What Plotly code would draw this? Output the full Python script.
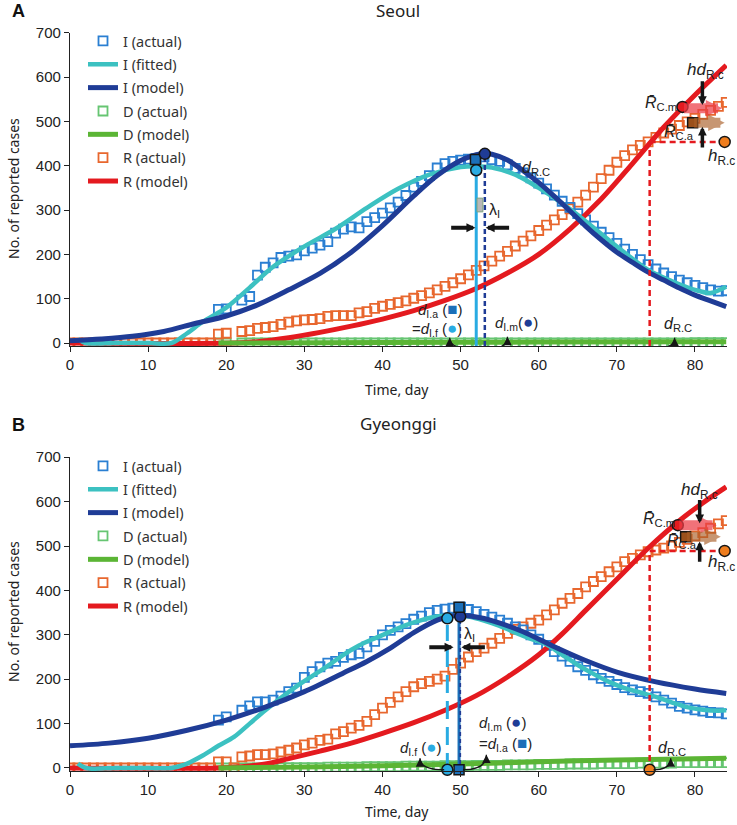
import plotly.graph_objects as go

N = None
days = list(range(85))

# ---------------- Seoul (panel A) ----------------
seoul_I_actual = [
    N, N, N, N, N, N, N, N, N, N,
    N, N, N, N, N, N, N, N, N, 76,
    77, N, 97, 105, 153, 171, 181, 193, 196, 199,
    208, 214, 221, 229, 248, 257, 262, 260, 274, 283,
    293, 305, 318, 333, 352, 365, 378, 395, 405, 410,
    413, 415, 416, 420, 414, 410, 402, 394, 384, 373,
    361, 348, 334, 320, 306, 292, 278, 264, 250, 238,
    225, 212, 200, 188, 177, 167, 158, 150, 142, 136,
    130, 125, 120, 117, 118]
seoul_D_actual = [
    N, N, N, N, N, N, N, N, N, N,
    N, N, N, N, N, N, N, N, N, 0,
    0, N, 0, 0, 0, 0, 0, 0, 0, 0,
    0, 0, 0, 0, 0, 0, 0, 0, 0, 0,
    0, 0, 0, 0, 0, 0, 0, 0, 0, 0,
    0, 0, 0, 0, 0, 0, 0, 0, 0, 0,
    0, 0, 0, 0, 0, 0, 0, 0, 0, 0,
    0, 0, 0, 0, 0, 0, 0, 0, 0, 0,
    1, 1, 1, 1, 1]
seoul_R_actual = [
    0, 0, 0, 0, 0, 0, 0, 0, 0, 0,
    0, 0, 0, 0, 0, 0, 0, 0, 0, 20,
    22, N, 26, 28, 33, 35, 37, 42, 47, 50,
    52, 53, 55, 60, 62, 62, 62, 68, 71, 78,
    83, 87, 91, 95, 101, 107, 113, 120, 128, 136,
    145, 154, 164, 174, 185, 196, 207, 219, 230, 242,
    254, 266, 278, 290, 303, 318, 334, 352, 371, 390,
    408, 423, 436, 446, 454, 464, 474, 483, 491, 499,
    507, 516, 525, 534, 543]
seoul_fit_days = [1, 2, 6, 10, 13, 15, 17, 20, 23, 26, 30, 34, 38, 42, 46, 50, 52, 54, 57, 60, 63, 66, 70, 74, 77, 80, 82, 84]
seoul_I_fitted = [9, 0, 0, 0, 0, 22, 48, 80, 125, 172, 218, 258, 305, 348, 380, 397, 399, 396, 380, 350, 315, 275, 218, 165, 140, 120, 113, 127]
seoul_Imod_days = [0, 4, 8, 12, 16, 20, 24, 28, 32, 36, 40, 44, 47, 50, 52, 53, 54, 56, 58, 60, 62, 64, 66, 68, 70, 72, 74, 76, 78, 80, 82, 84]
seoul_I_model = [5, 9, 15, 26, 44, 61, 86, 120, 157, 205, 265, 332, 378, 412, 425, 428, 426, 413, 389, 362, 331, 298, 264, 233, 205, 182, 160, 142, 124, 108, 95, 82]
seoul_Dmod_days = [19, 40, 60, 84]
seoul_D_model = [0, 1, 2, 3]
seoul_Rmod_days = [0, 21, 24, 28, 32, 36, 40, 44, 48, 52, 56, 60, 64, 68, 72, 76, 80, 84]
seoul_R_model = [0, 0, 3, 12, 24, 38, 54, 73, 96, 123, 158, 200, 257, 325, 405, 487, 560, 627]

# key points: (day, value)
seoul_If = (52.0, 390)
seoul_Ia = (51.9, 414)
seoul_Im = (53.1, 427)
seoul_RC = (74.2, 454)
seoul_hRc_end = 83.8
seoul_RCm = (78.4, 533)
seoul_RCa = (79.7, 497)
seoul_base = -13

# ---------------- Gyeonggi (panel B) ----------------
gg_I_actual = [
    N, N, N, N, N, N, N, N, N, N,
    N, N, N, N, N, N, N, N, N, 108,
    115, N, 130, 140, 149, 149, 153, 162, 172, 180,
    204, 217, 228, 236, 240, 249, 255, 258, 273, 285,
    300, 310, 318, 325, 335, 342, 350, 355, 358, 360,
    362, 357, 352, 346, 340, 333, 326, 318, 311, 300,
    290, 276, 262, 252, 240, 228, 220, 210, 202, 195,
    188, 181, 176, 172, 168, 160, 153, 146, 139, 135,
    131, 128, 125, 124, 122]
gg_D_actual = [
    N, N, N, N, N, N, N, N, N, N,
    N, N, N, N, N, N, N, N, N, 0,
    0, 0, 0, 0, 0, 0, 0, 1, 1, 1,
    1, 1, 1, 2, 2, 2, 2, 2, 3, 3,
    3, 3, 3, 4, 4, 4, 4, 4, 5, 5,
    5, 5, 6, 6, 6, 6, 7, 7, 7, 7,
    8, 8, 8, 8, 9, 9, 9, 9, 10, 10,
    10, 10, 10, 11, 11, 11, 11, 11, 12, 12,
    12, 12, 12, 12, 12]
gg_R_actual = [
    0, 0, 0, 0, 0, 0, 0, 0, 0, 0,
    0, 0, 0, 0, 0, 0, 0, 0, 0, 14,
    14, 0, 25, 27, 30, 30, 32, 36, 40, 45,
    52, 56, 62, 65, 77, 82, 90, 96, 105, 120,
    135, 148, 160, 172, 183, 190, 195, 200, 207, 222,
    236, 250, 262, 270, 281, 292, 303, 312, 318, 326,
    333, 345, 356, 371, 382, 393, 408, 420, 431, 442,
    453, 465, 472, 480, 487, 491, 495, 500, 508, 515,
    523, 530, 540, 550, 557]
gg_fit_days = [1, 2, 6, 10, 13, 15, 17, 19, 21, 23, 25, 27, 29, 31, 33, 35, 37, 39, 41, 43, 45, 47, 49, 51, 53, 55, 57, 59, 61, 63, 65, 67, 69, 71, 73, 75, 77, 79, 81, 83, 84]
gg_I_fitted = [10, 0, 0, 0, 0, 10, 28, 50, 70, 100, 130, 158, 184, 207, 230, 255, 276, 292, 307, 322, 333, 341, 344, 341, 332, 320, 305, 291, 278, 255, 232, 212, 194, 180, 170, 160, 148, 137, 131, 129, 130]
gg_Imod_days = [0, 5, 10, 15, 20, 25, 30, 35, 38, 41, 44, 47, 49, 50, 52, 54, 58, 62, 66, 70, 75, 80, 84]
gg_I_model = [50, 56, 67, 85, 108, 137, 172, 214, 240, 270, 305, 333, 343, 344, 340, 332, 307, 273, 242, 216, 194, 178, 168]
gg_Dmod_days = [19, 30, 40, 50, 60, 70, 80, 84]
gg_D_model = [0, 2, 5, 9, 14, 18, 21, 22]
gg_Rmod_days = [0, 19, 22, 25, 28, 32, 36, 40, 44, 48, 52, 56, 60, 63, 66, 70, 74, 78, 81, 84]
gg_R_model = [0, 0, 3, 9, 21, 38, 56, 78, 102, 130, 163, 205, 255, 302, 355, 425, 495, 557, 597, 633]

gg_If = (48.3, 337)
gg_Ia = (49.8, 362)
gg_Im = (49.95, 341)
gg_RC = (74.2, 489)
gg_hRc_end = 83.8
gg_RCm = (77.8, 547)
gg_RCa = (78.8, 521)
gg_base = -4

x_ticks = [0, 10, 20, 30, 40, 50, 60, 70, 80]
y_ticks = [0, 100, 200, 300, 400, 500, 600, 700]

# ---------------- style ----------------
COL = dict(I_act="#2a7fd2", I_fit="#3cc1c1", I_mod="#1f3c96", D_act="#66c572",
           D_mod="#5bb535", R_act="#e8672e", R_mod="#e41a1f",
           lblue="#29abe2", mblue="#1b6fb8", orange="#ee7d1e", brown="#9b501b")
TXT = "Noto Sans"
NUM = "Liberation Sans"
H = 825.0
ML, PW = 70.0, 657.0


def py(px):
    return 1 - px / H


def pxx(px):
    return (px - ML) / PW


fig = go.Figure()


def add_series(xa, ya, leg, I_act, D_act, R_act, fx, fy, imx, imy, dmx, dmy, rmx, rmy):
    common = dict(xaxis=xa, yaxis=ya, legend=leg, hoverinfo='skip')

    def sq(y, color, name, rank):
        fig.add_trace(go.Scatter(x=days, y=y, mode='markers', name=name,
                                 marker=dict(symbol='square-open', size=9, color=color,
                                             line=dict(width=1.8, color=color)),
                                 legendgroup=leg + name, legendrank=rank, **common))

    def ln(x, y, color, name, rank, width=5.0):
        fig.add_trace(go.Scatter(x=x, y=y, mode='lines', name=name,
                                 line=dict(color=color, width=width, shape='spline', smoothing=0.9),
                                 legendgroup=leg + name, legendrank=rank, **common))

    sq(D_act, COL['D_act'], 'D (actual)', 4)
    sq(R_act, COL['R_act'], 'R (actual)', 6)
    sq(I_act, COL['I_act'], 'I (actual)', 1)
    ln(rmx, rmy, COL['R_mod'], 'R (model)', 7)
    ln(fx, fy, COL['I_fit'], 'I (fitted)', 2, 4.5)
    ln(imx, imy, COL['I_mod'], 'I (model)', 3)
    ln(dmx, dmy, COL['D_mod'], 'D (model)', 5)


def vline(xa, ya, x, y0, y1, color, width, dash):
    fig.add_trace(go.Scatter(x=[x, x], y=[y0, y1], mode='lines', showlegend=False, hoverinfo='skip',
                             line=dict(color=color, width=width, dash=dash), xaxis=xa, yaxis=ya))


def hline(xa, ya, x0, x1, y, color, width, dash):
    fig.add_trace(go.Scatter(x=[x0, x1], y=[y, y], mode='lines', showlegend=False, hoverinfo='skip',
                             line=dict(color=color, width=width, dash=dash), xaxis=xa, yaxis=ya))


def point(xa, ya, p, symbol, color, size=11):
    fig.add_trace(go.Scatter(x=[p[0]], y=[p[1]], mode='markers', showlegend=False, hoverinfo='skip',
                             cliponaxis=False,
                             marker=dict(symbol=symbol, size=size, color=color,
                                         line=dict(color='#151515', width=1.5)),
                             xaxis=xa, yaxis=ya))


annotations = []
shapes = []


def label(xa, ya, x, y, text, size=15, xanchor='center', font=NUM):
    annotations.append(dict(x=x, y=y, xref=xa, yref=ya, text=text, showarrow=False,
                            xanchor=xanchor, yanchor='middle',
                            font=dict(family=font, size=size, color='#222')))


def arrow(xa, ya, x, y, tx, ty, color, width, size, head=2):
    annotations.append(dict(x=x, y=y, xref=xa, yref=ya, ax=tx, ay=ty, axref=xa, ayref=ya,
                            text='', showarrow=True, arrowhead=head, arrowsize=size,
                            arrowwidth=width, arrowcolor=color, standoff=0, startstandoff=0))


def curve(xa, ya, sx, sy, ex, ey):
    shapes.append(dict(type='path', xref=xa, yref=ya,
                       path=f"M {sx},{sy} Q {ex},{sy} {ex},{ey}",
                       line=dict(color='#151515', width=1.3)))
    annotations.append(dict(x=ex, y=ey, xref=xa, yref=ya, ax=0, ay=7, text='', showarrow=True,
                            arrowhead=2, arrowsize=1.3, arrowwidth=1.3, arrowcolor='#151515',
                            standoff=0))


def sub(main, s, italic=True):
    m = f"<i>{main}</i>" if italic else main
    return f"{m}<sub>{s}</sub>"


def icon(ch, color):
    return f"<span style='color:{color};font-size:17px'>{ch}</span>"


# ---------------- Panel A ----------------
xa, ya = 'x', 'y'
add_series(xa, ya, 'legend', seoul_I_actual, seoul_D_actual, seoul_R_actual,
           seoul_fit_days, seoul_I_fitted, seoul_Imod_days, seoul_I_model,
           seoul_Dmod_days, seoul_D_model, seoul_Rmod_days, seoul_R_model)
vline(xa, ya, seoul_If[0], -7, seoul_If[1], COL['lblue'], 3, 'solid')
vline(xa, ya, seoul_Im[0], -7, seoul_Im[1], COL['I_mod'], 2.5, '5px,3px')
vline(xa, ya, seoul_RC[0], -7, seoul_RC[1], COL['R_mod'], 2.5, '6px,4px')
hline(xa, ya, seoul_RC[0], seoul_hRc_end, seoul_RC[1], COL['R_mod'], 2.5, '6px,4px')
shapes.append(dict(type='rect', xref=xa, yref=ya, x0=52.1, x1=52.85, y0=296, y1=327,
                   fillcolor='#b8b8b8', line=dict(color='#7fa37f', width=1)))
point(xa, ya, seoul_Ia, 'square', COL['mblue'], 10)
point(xa, ya, seoul_If, 'circle', COL['lblue'])
point(xa, ya, seoul_Im, 'circle', COL['I_mod'])
point(xa, ya, (seoul_Im[0], seoul_base), 'circle', COL['I_mod'])
point(xa, ya, (seoul_If[0], seoul_base), 'circle', COL['lblue'])
point(xa, ya, (seoul_RC[0], seoul_base), 'circle', COL['orange'])
point(xa, ya, (seoul_hRc_end, seoul_RC[1]), 'circle', COL['orange'])
arrow(xa, ya, 83.5, seoul_RCm[1] - 3, seoul_RCm[0], seoul_RCm[1] - 3, 'rgba(236,60,70,0.72)', 10, 0.33)
arrow(xa, ya, 83.8, seoul_RCa[1], seoul_RCa[0], seoul_RCa[1], 'rgba(170,95,40,0.65)', 10, 0.33)
point(xa, ya, seoul_RCm, 'circle', COL['R_mod'])
point(xa, ya, seoul_RCa, 'square', COL['brown'], 10)
arrow(xa, ya, 51.9, 260, 48.6, 260, '#151515', 4, 0.45)
arrow(xa, ya, 53.2, 260, 56.4, 260, '#151515', 4, 0.45)
arrow(xa, ya, 80.95, 537, 80.95, 594, '#151515', 3.5, 0.5)
arrow(xa, ya, 80.95, 488, 80.95, 438, '#151515', 3.5, 0.5)
curve(xa, ya, 51.4, -13, 48.6, 12)
curve(xa, ya, 53.6, -13, 56.0, 14)
curve(xa, ya, 74.7, -13, 77.4, 12)
label(xa, ya, 47.3, 74, sub('d', 'I.a') + ' (' + icon('■', COL['mblue']) + ')')
label(xa, ya, 47.0, 31, '=' + sub('d', 'I.f') + ' (' + icon('●', COL['lblue']) + ')')
label(xa, ya, 57.1, 45, sub('d', 'I.m') + '(' + icon('●', COL['I_mod']) + ')')
label(xa, ya, 77.8, 41, sub('d', 'R.C'), 16)
label(xa, ya, 59.7, 393, sub('d', 'R.C'), 16)
label(xa, ya, 54.3, 298, sub('λ', 'I', italic=False), 16)
label(xa, ya, 81.3, 614, sub('hd', 'R.c'), 17)
label(xa, ya, 75.7, 540, sub('R\u0304', 'C.m'), 16)
label(xa, ya, 78.0, 476, sub('R\u0304', 'C.a'), 16)
label(xa, ya, 83.4, 420, sub('h', 'R.c'), 17)

# ---------------- Panel B ----------------
xa, ya = 'x2', 'y2'
add_series(xa, ya, 'legend2', gg_I_actual, gg_D_actual, gg_R_actual,
           gg_fit_days, gg_I_fitted, gg_Imod_days, gg_I_model,
           gg_Dmod_days, gg_D_model, gg_Rmod_days, gg_R_model)
vline(xa, ya, gg_If[0], -7, 322, COL['lblue'], 3, '18px,8px')
vline(xa, ya, gg_Ia[0], -7, gg_Ia[1], COL['mblue'], 3, 'solid')
vline(xa, ya, gg_Im[0], -7, gg_Im[1], COL['I_mod'], 1.8, '4px,3px')
vline(xa, ya, gg_RC[0], -7, gg_RC[1], COL['R_mod'], 2.5, '6px,4px')
hline(xa, ya, gg_RC[0], gg_hRc_end, gg_RC[1], COL['R_mod'], 2.5, '6px,4px')
point(xa, ya, gg_If, 'circle', COL['lblue'])
point(xa, ya, gg_Im, 'circle', COL['I_mod'])
point(xa, ya, gg_Ia, 'square', COL['mblue'], 10)
point(xa, ya, (gg_If[0], gg_base), 'circle', COL['lblue'])
point(xa, ya, (gg_Ia[0], gg_base), 'square', COL['mblue'], 10)
point(xa, ya, (gg_RC[0], gg_base), 'circle', COL['orange'])
point(xa, ya, (gg_hRc_end, gg_RC[1]), 'circle', COL['orange'])
arrow(xa, ya, 82.8, gg_RCm[1], gg_RCm[0], gg_RCm[1], 'rgba(236,60,70,0.72)', 10, 0.33)
arrow(xa, ya, 83.3, gg_RCa[1], gg_RCa[0], gg_RCa[1], 'rgba(170,95,40,0.65)', 10, 0.33)
point(xa, ya, gg_RCm, 'circle', COL['R_mod'])
point(xa, ya, gg_RCa, 'square', COL['brown'], 10)
arrow(xa, ya, 49.1, 272, 45.8, 272, '#151515', 4, 0.45)
arrow(xa, ya, 50.1, 272, 53.3, 272, '#151515', 4, 0.45)
arrow(xa, ya, 80.6, 551, 80.6, 607, '#151515', 3.5, 0.5)
arrow(xa, ya, 80.6, 510, 80.6, 461, '#151515', 3.5, 0.5)
curve(xa, ya, 47.9, -4, 44.8, 22)
curve(xa, ya, 50.3, -4, 53.3, 30)
curve(xa, ya, 74.7, -4, 76.9, 22)
label(xa, ya, 44.9, 45, sub('d', 'I.f') + ' (' + icon('●', COL['lblue']) + ')')
label(xa, ya, 55.4, 101, sub('d', 'I.m') + ' (' + icon('●', COL['I_mod']) + ')')
label(xa, ya, 55.8, 55, '=' + sub('d', 'I.a') + ' (' + icon('■', COL['mblue']) + ')')
label(xa, ya, 51.2, 300, sub('λ', 'I', italic=False), 16)
label(xa, ya, 77.1, 45, sub('d', 'R.C'), 16)
label(xa, ya, 80.6, 624, sub('hd', 'R.c'), 17)
label(xa, ya, 75.4, 559, sub('R\u0304', 'C.m'), 16)
label(xa, ya, 78.3, 511, sub('R\u0304', 'C.a'), 16)
label(xa, ya, 83.4, 462, sub('h', 'R.c'), 17)

# ---------------- titles ----------------
for txt, ypx in (("Seoul", 11), ("Gyeonggi", 423)):
    annotations.append(dict(x=pxx(398), y=py(ypx), xref='paper', yref='paper', text=txt,
                            showarrow=False, xanchor='center', yanchor='middle',
                            font=dict(family=TXT, size=17, color='#222')))
for txt, ypx in (("A", 11), ("B", 425)):
    annotations.append(dict(x=pxx(18), y=py(ypx), xref='paper', yref='paper', text=f"<b>{txt}</b>",
                            showarrow=False, xanchor='center', yanchor='middle',
                            font=dict(family=NUM, size=18, color='#111')))
for ypx in (189, 612):
    annotations.append(dict(x=pxx(13), y=py(ypx), xref='paper', yref='paper',
                            text="No. of reported cases", textangle=-90, showarrow=False,
                            xanchor='center', yanchor='middle',
                            font=dict(family=TXT, size=14, color='#222')))
for ypx in (390, 811):
    annotations.append(dict(x=pxx(397), y=py(ypx), xref='paper', yref='paper',
                            text="Time, day", showarrow=False, xanchor='center', yanchor='middle',
                            font=dict(family=TXT, size=14, color='#222')))

axis_style = dict(showline=True, linecolor='#222', linewidth=1.3, ticks='outside', ticklen=5,
                  tickwidth=1.3, tickcolor='#222', showgrid=False, zeroline=False, automargin=False,
                  tickfont=dict(family=NUM, size=15, color='#222'))
yA = [py(346.1), py(32.9)]
yB = [py(771.1), py(457.2)]
legend_style = dict(xanchor='left', yanchor='top', bgcolor='rgba(0,0,0,0)',
                    font=dict(family=TXT, size=14.5, color='#333'), tracegroupgap=1.5,
                    traceorder='grouped', itemclick=False)

fig.update_layout(
    width=737, height=825, margin=dict(l=70, r=10, t=0, b=0, autoexpand=False),
    plot_bgcolor='white', paper_bgcolor='white', showlegend=True,
    xaxis=dict(domain=[0, 1], range=[0, 84.1], tickvals=x_ticks, anchor='y', **axis_style),
    yaxis=dict(domain=yA, range=[-7, 700], tickvals=y_ticks, anchor='x', **axis_style),
    xaxis2=dict(domain=[0, 1], range=[0, 84.1], tickvals=x_ticks, anchor='y2', **axis_style),
    yaxis2=dict(domain=yB, range=[-7, 700], tickvals=y_ticks, anchor='x2', **axis_style),
    legend=dict(x=pxx(83), y=py(25), **legend_style),
    legend2=dict(x=pxx(83), y=py(450), **legend_style),
    annotations=annotations, shapes=shapes,
)

fig.write_html("out.html", config={'displayModeBar': False},
               post_script="document.body.style.margin='0px';")
